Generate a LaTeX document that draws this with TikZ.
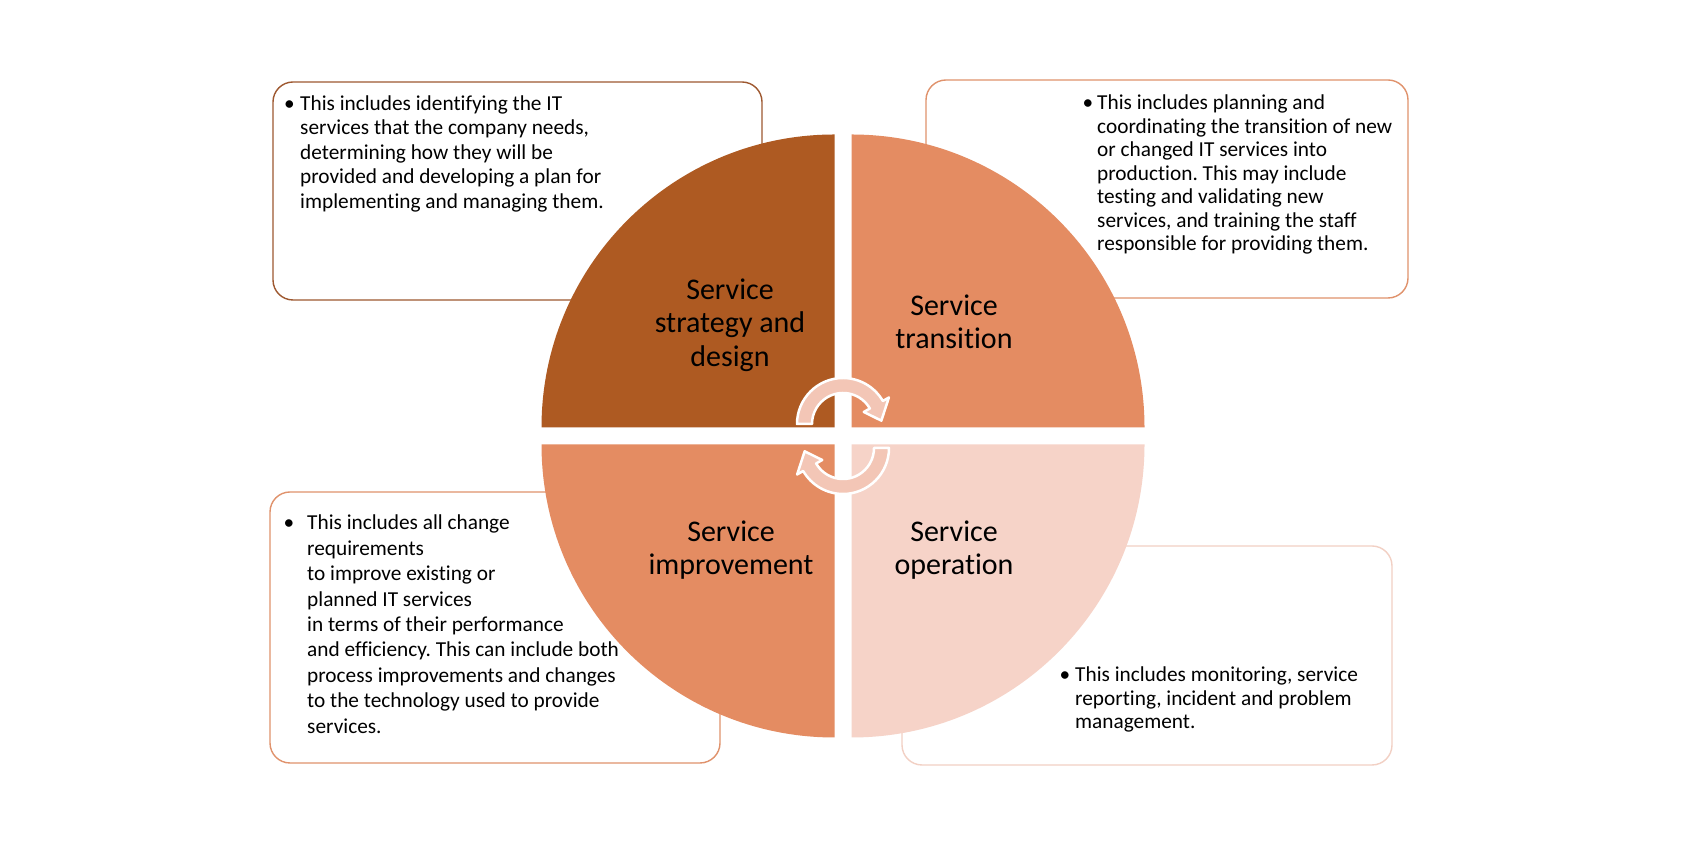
\documentclass[tikz,border=0pt]{standalone}
\usepackage{fontspec}
\setmainfont{Carlito}[Ligatures=NoCommon]
\frenchspacing
\definecolor{stratcol}{RGB}{174,90,34}
\definecolor{transcol}{RGB}{228,140,98}
\definecolor{opercol}{RGB}{246,211,200}
\definecolor{cyclecol}{RGB}{243,198,182}
\definecolor{stratline}{RGB}{158,88,48}
\definecolor{transline}{RGB}{224,146,108}
\definecolor{operline}{RGB}{242,208,196}
\begin{document}
\begin{tikzpicture}[
        x=1pt, y=1pt,
        descbox/.style={
            rounded corners=20pt,
            line width=1.4pt,
            fill=white
        },
        desctext/.style={
            anchor=north west,
            inner sep=0pt,
            align=left,
            font=\fontsize{21.3}{24.4}\selectfont
        },
        quadlabel/.style={
            inner sep=0pt,
            align=center,
            font=\fontsize{30}{33.5}\selectfont
        },
        cyclearrow/.style={
            fill=cyclecol,
            draw=white,
            line width=2.5pt,
            line join=round
        }
    ]
    \useasboundingbox[fill=white] (0,0) rectangle (1700,850);

    % description boxes behind the circle
    \draw[descbox, draw=stratline] (273,550) rectangle (762,768);
    \draw[descbox, draw=transline] (926,552) rectangle (1408,770);
    \draw[descbox, draw=transline] (270,87) rectangle (720,358);
    \draw[descbox, draw=operline] (902,85) rectangle (1392,304);

    % the four quadrants
    \fill[stratcol] (834.5,422.5) -- ++(-293,0) arc[start angle=180, end angle=90, radius=293] -- cycle;
    \fill[transcol] (851.5,422.5) -- ++(0,293) arc[start angle=90, end angle=0, radius=293] -- cycle;
    \fill[opercol] (851.5,405.5) -- ++(293,0) arc[start angle=0, end angle=-90, radius=293] -- cycle;
    \fill[transcol] (834.5,405.5) -- ++(0,-293) arc[start angle=270, end angle=180, radius=293] -- cycle;

    \node[quadlabel] (strat_label) at (730,525) {Service\\strategy and\\design};
    \node[quadlabel] (trans_label) at (954,528) {Service\\transition};
    \node[quadlabel] (impr_label)  at (731,300) {Service\\improvement};
    \node[quadlabel] (oper_label)  at (954,300) {Service\\operation};

    % cycle arrows in the middle
    \begin{scope}[shift={(843,426)}]
        \filldraw[cyclearrow] (180:46) arc[start angle=180, end angle=30, radius=46] -- (30:53) -- (5:38.5) -- (30:24) -- (30:31) arc[start angle=30, end angle=180, radius=31] -- cycle;
    \end{scope}
    \begin{scope}[shift={(843,402)}, rotate=180]
        \filldraw[cyclearrow] (180:46) arc[start angle=180, end angle=30, radius=46] -- (30:53) -- (5:38.5) -- (30:24) -- (30:31) arc[start angle=30, end angle=180, radius=31] -- cycle;
    \end{scope}

    % texts of the boxes
    \node[desctext] (strat_text) at (300,754.5) {\llap{\textbullet\hspace{5.5pt}}This includes identifying the IT\\services that the company needs,\\determining how they will be\\provided and developing a plan for\\implementing and managing them.};
    \node[desctext, font=\fontsize{21.3}{23.5}\selectfont] (trans_text) at (1097,755) {\llap{\textbullet\hspace{4pt}}This includes planning and\\coordinating the transition of new\\or changed IT services into\\production. This may include\\testing and validating new\\services, and training the staff\\responsible for providing them.};
    \node[desctext, font=\fontsize{21.3}{25.4}\selectfont] (impr_text) at (307,335) {\llap{\textbullet\hspace{13pt}}This includes all change\\requirements\\to improve existing or\\planned IT services\\in terms of their performance\\and efficiency. This can include both\\process improvements and changes\\to the technology used to provide\\services.};
    \node[desctext, font=\fontsize{21.3}{23.4}\selectfont] (oper_text) at (1075,183) {\llap{\textbullet\hspace{5pt}}This includes monitoring, service\\reporting, incident and problem\\management.};

\end{tikzpicture}
\end{document}
